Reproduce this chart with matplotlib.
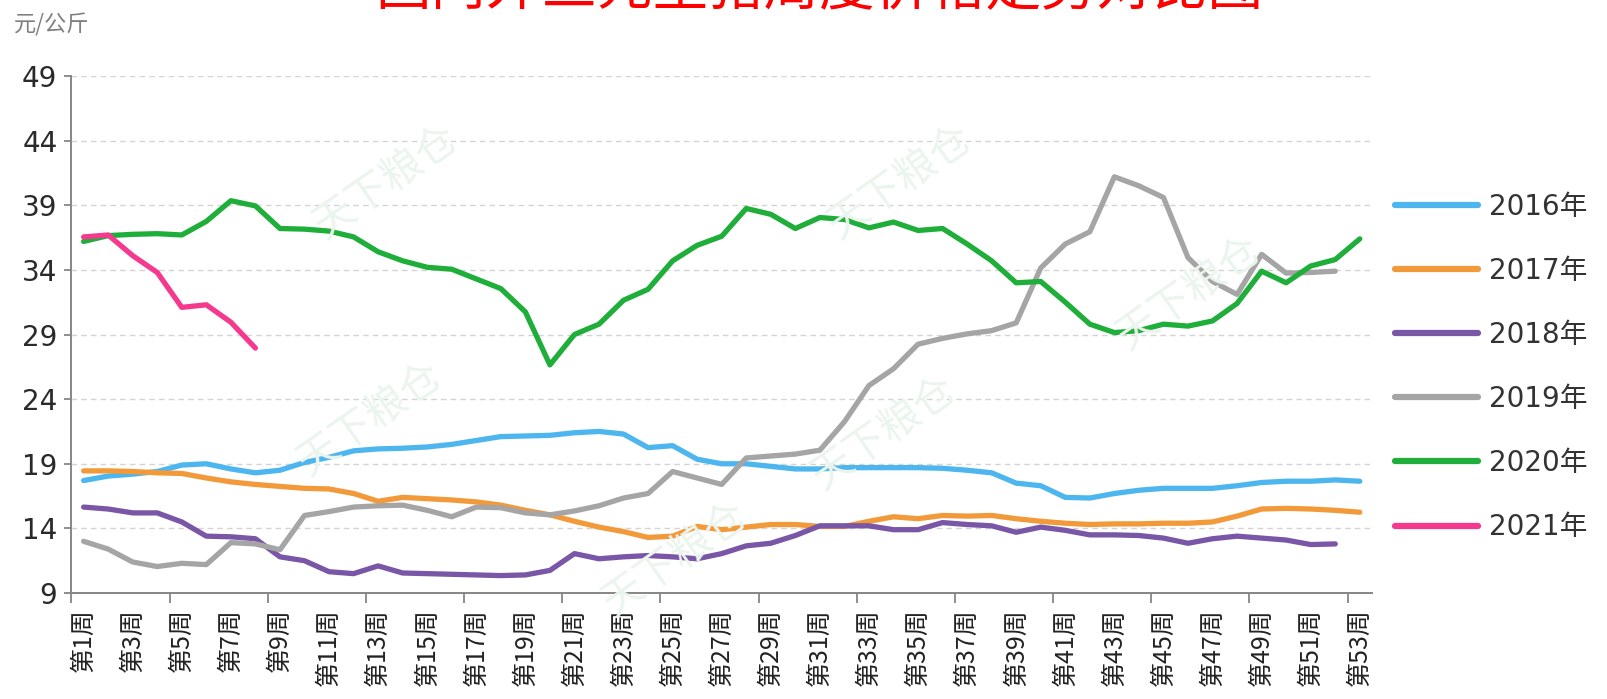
import numpy as np
import matplotlib
matplotlib.use('Agg')
import matplotlib.pyplot as plt

# weekly prices, yuan/kg
weeks = np.arange(1, 54)
week_labels = ['第%d周' % w for w in range(1, 54, 2)]

y2016 = [17.7, 18.05, 18.2, 18.4, 18.9, 19.0, 18.6, 18.3, 18.5, 19.1,
         19.5, 20.0, 20.15, 20.2, 20.3, 20.5, 20.8, 21.1, 21.15, 21.2,
         21.4, 21.5, 21.3, 20.25, 20.4, 19.35, 19.0, 19.0, 18.8, 18.6,
         18.6, 18.7, 18.7, 18.7, 18.7, 18.65, 18.5, 18.3, 17.5, 17.3,
         16.4, 16.35, 16.7, 16.95, 17.1, 17.1, 17.1, 17.3, 17.55, 17.65,
         17.65, 17.75, 17.65]
y2017 = [18.45, 18.45, 18.4, 18.3, 18.25, 17.9, 17.6, 17.4, 17.25, 17.1,
         17.05, 16.7, 16.1, 16.4, 16.3, 16.2, 16.05, 15.8, 15.4, 15.05,
         14.55, 14.1, 13.75, 13.3, 13.4, 14.15, 13.9, 14.1, 14.3, 14.3,
         14.15, 14.15, 14.55, 14.9, 14.75, 15.0, 14.95, 15.0, 14.75, 14.55,
         14.4, 14.3, 14.35, 14.35, 14.4, 14.4, 14.5, 14.95, 15.5, 15.55,
         15.5, 15.4, 15.25]
y2018 = [15.65, 15.5, 15.2, 15.2, 14.5, 13.4, 13.35, 13.2, 11.8, 11.5,
         10.65, 10.5, 11.1, 10.55, 10.5, 10.45, 10.4, 10.35, 10.4, 10.75,
         12.05, 11.65, 11.8, 11.9, 11.8, 11.65, 12.05, 12.65, 12.85, 13.45,
         14.2, 14.2, 14.2, 13.9, 13.9, 14.45, 14.3, 14.2, 13.7, 14.1,
         13.85, 13.5, 13.5, 13.45, 13.25, 12.85, 13.2, 13.4, 13.25, 13.1,
         12.75, 12.8]
y2019 = [13.0, 12.4, 11.4, 11.05, 11.3, 11.2, 12.9, 12.8, 12.35, 15.0,
         15.3, 15.65, 15.75, 15.8, 15.4, 14.9, 15.65, 15.6, 15.2, 15.05,
         15.35, 15.75, 16.35, 16.7, 18.4, 17.9, 17.4, 19.45, 19.6, 19.75,
         20.05, 22.25, 25.05, 26.35, 28.25, 28.7, 29.05, 29.3, 29.9, 34.15,
         36.0, 36.95, 41.2, 40.5, 39.6, 34.95, 33.1, 32.1, 35.2, 33.75,
         33.8, 33.9]
y2020 = [36.2, 36.65, 36.75, 36.8, 36.7, 37.75, 39.35, 38.95, 37.2, 37.15,
         37.0, 36.55, 35.4, 34.7, 34.2, 34.05, 33.3, 32.55, 30.75, 26.65,
         29.0, 29.8, 31.65, 32.5, 34.7, 35.9, 36.6, 38.75, 38.3, 37.2,
         38.05, 37.9, 37.25, 37.7, 37.05, 37.2, 36.0, 34.7, 33.0, 33.1,
         31.5, 29.8, 29.15, 29.3, 29.8, 29.65, 30.05, 31.4, 33.9, 33.0,
         34.3, 34.8, 36.4]
y2021 = [36.55, 36.7, 35.1, 33.8, 31.1, 31.3, 29.95, 27.95]

series = [('2016年', y2016, '#4db6ee'),
          ('2017年', y2017, '#f29a3a'),
          ('2018年', y2018, '#7a56a6'),
          ('2019年', y2019, '#a5a5a5'),
          ('2020年', y2020, '#1fae3a'),
          ('2021年', y2021, '#f5398f')]

plt.rcParams['font.family'] = ['DejaVu Sans', 'Noto Sans CJK SC']

fig = plt.figure(figsize=(16.07, 6.99), dpi=100)
ax = fig.add_axes([0.0444, 0.1516, 0.8094, 0.7397])

# faint watermarks
for wx, wy in [(0.24, 0.74), (0.56, 0.74), (0.74, 0.58), (0.23, 0.40), (0.55, 0.38), (0.42, 0.20)]:
    fig.text(wx, wy, '天下粮仓', rotation=35, fontsize=30, color='#ebf5ed',
             family=['Noto Sans CJK SC'], ha='center', va='center', zorder=0)

for name, vals, col in series:
    ax.plot(weeks[:len(vals)], vals, color=col, lw=3.8, label=name,
            solid_capstyle='round', solid_joinstyle='round', zorder=3)

ax.set_xlim(0.5, 53.5)
ax.set_ylim(9, 49)
ax.set_yticks(range(9, 50, 5))
ax.yaxis.grid(True, linestyle=(0, (4, 3)), color='#d4d4d4', lw=1)
ax.set_axisbelow(True)
ax.patch.set_alpha(0)

ax.set_xticks(range(1, 54, 2))
ax.set_xticklabels(week_labels, rotation=90, family=['Noto Sans CJK SC'],
                   fontsize=18, color='#222222')
ax.set_xticks(np.arange(0.5, 54, 4), minor=True)
ax.tick_params(axis='x', which='major', length=0, pad=11)
ax.tick_params(axis='x', which='minor', length=7, width=1.3, color='#868686', direction='out')
ax.tick_params(axis='y', length=5, width=1.3, color='#868686', labelsize=20,
               labelcolor='#2a2a2a', pad=5)

for s in ['top', 'right']:
    ax.spines[s].set_visible(False)
for s in ['left', 'bottom']:
    ax.spines[s].set_color('#868686')
    ax.spines[s].set_linewidth(1.4)

fig.text(0.009, 0.964, '元/公斤', fontsize=16, color='#7f7f7f',
         family=['Noto Sans CJK SC'], va='center', ha='left')
fig.text(0.51, 1.016, '国内外三元生猪周度价格走势对比图', fontsize=40, color='#ff0000',
         family=['Noto Sans CJK SC'], ha='center', va='center')

leg = ax.legend(loc='center left', bbox_to_anchor=(0.868, 0.475),
                bbox_transform=fig.transFigure, frameon=False, fontsize=20,
                handlelength=3.0, handletextpad=0.4, labelspacing=1.3,
                borderpad=0, borderaxespad=0)
for t in leg.get_texts():
    t.set_color('#333333')
for h in leg.get_lines():
    h.set_linewidth(4.5)

fig.savefig('out.png', dpi=100)
